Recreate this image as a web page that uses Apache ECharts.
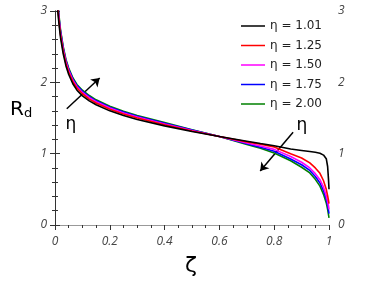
<!DOCTYPE html>
<html><head><meta charset="utf-8">
<script src="https://cdn.jsdelivr.net/npm/echarts@6/dist/echarts.min.js"></script>
<style>html,body{margin:0;padding:0;background:#fff}#c{width:374px;height:283px}</style>
</head><body><div id="c"></div>
<script>
var zeta = [0.003, 0.006, 0.01, 0.015, 0.02, 0.03, 0.04, 0.05, 0.065, 0.08, 0.1, 0.125, 0.15, 0.2, 0.25, 0.3, 0.4, 0.5, 0.6,
            0.7, 0.75, 0.8, 0.86, 0.9, 0.93, 0.95, 0.967, 0.98, 0.99, 0.995, 0.998, 1.0];
var eta101 = [4.2, 3.45, 3.0, 2.8, 2.63, 2.4, 2.23, 2.11, 1.98, 1.89, 1.81, 1.74, 1.685, 1.6, 1.535, 1.48, 1.39, 1.31, 1.24,
              1.175, 1.142, 1.11, 1.065, 1.045, 1.03, 1.02, 1.005, 0.98, 0.93, 0.82, 0.65, 0.5];
var eta125 = [4.29, 3.51, 3.05, 2.84, 2.67, 2.435, 2.26, 2.14, 2.01, 1.92, 1.84, 1.765, 1.71, 1.623, 1.556, 1.5, 1.406, 1.319, 1.24,
              1.165, 1.133, 1.095, 1.0, 0.94, 0.87, 0.8, 0.725, 0.62, 0.5, 0.41, 0.35, 0.3];
var eta150 = [4.35, 3.56, 3.085, 2.87, 2.695, 2.46, 2.285, 2.165, 2.03, 1.938, 1.858, 1.785, 1.727, 1.639, 1.571, 1.513, 1.417, 1.325, 1.24,
              1.15, 1.108, 1.06, 0.96, 0.88, 0.8, 0.72, 0.635, 0.53, 0.41, 0.33, 0.27, 0.22];
var eta175 = [4.4, 3.595, 3.11, 2.895, 2.72, 2.48, 2.302, 2.182, 2.048, 1.954, 1.874, 1.8, 1.741, 1.652, 1.583, 1.524, 1.426, 1.33, 1.24,
              1.14, 1.09, 1.035, 0.925, 0.845, 0.765, 0.68, 0.59, 0.48, 0.36, 0.28, 0.21, 0.16];
var eta200 = [4.45, 3.63, 3.14, 2.92, 2.74, 2.5, 2.32, 2.2, 2.065, 1.97, 1.89, 1.815, 1.755, 1.665, 1.595, 1.535, 1.435, 1.335, 1.24,
              1.13, 1.075, 1.01, 0.9, 0.81, 0.73, 0.64, 0.545, 0.43, 0.31, 0.22, 0.15, 0.1];
var names = ['η = 1.01', 'η = 1.25', 'η = 1.50', 'η = 1.75', 'η = 2.00'];
var colors = ['#000000', '#ff0000', '#ff00ff', '#0000ff', '#008000'];
var allData = [eta101, eta125, eta150, eta175, eta200];

function pairs(ys){ return zeta.map(function(z,i){ return [z, ys[i]]; }); }

var labelStyle = {fontFamily: 'Open Sans', fontStyle: 'italic', fontSize: 12, color: '#444'};
var series = allData.map(function(d, i){
  return {
    name: names[i], type: 'line', data: pairs(d), symbol: 'none',
    smooth: false, clip: true,
    lineStyle: {color: colors[i], width: 1.6}, itemStyle: {color: colors[i]},
    z: 10 - i
  };
});
series[0].markLine = {
  silent: true, symbol: ['none', 'arrow'], symbolSize: 8, label: {show: false},
  lineStyle: {color: '#000', width: 1.5, type: 'solid'},
  data: [
    [{coord: [0.043, 1.63]}, {coord: [0.163, 2.06]}],
    [{coord: [0.869, 1.30]}, {coord: [0.749, 0.757]}]
  ]
};

var chart = echarts.init(document.getElementById('c'));
chart.setOption({
  animation: false,
  grid: {left: 55, right: 45, top: 11, bottom: 58},
  legend: {
    orient: 'vertical', left: 236, top: 15, itemWidth: 24, itemHeight: 12, itemGap: 7.5,
    icon: 'path://M0,0 L24,0 L24,1.5 L0,1.5 Z',
    textStyle: {fontFamily: 'DejaVu Sans', fontSize: 12, color: '#222'},
    data: names
  },
  xAxis: [{
    type: 'value', min: 0, max: 1, interval: 0.2, position: 'bottom',
    axisLine: {lineStyle: {color: '#333', width: 1}},
    axisTick: {show: true, length: 5, lineStyle: {color: '#333'}},
    minorTick: {show: true, splitNumber: 4, length: 3, lineStyle: {color: '#333'}},
    splitLine: {show: false},
    axisLabel: Object.assign({margin: 11}, labelStyle)
  }, {
    type: 'value', min: 0, max: 1, position: 'top',
    axisLine: {show: true, lineStyle: {color: '#999', width: 1}},
    axisTick: {show: false}, axisLabel: {show: false}, splitLine: {show: false}
  }],
  yAxis: [{
    type: 'value', min: 0, max: 3, interval: 1, position: 'left',
    axisLine: {show: true, lineStyle: {color: '#333'}},
    axisTick: {show: true, length: 5, lineStyle: {color: '#333'}},
    minorTick: {show: true, splitNumber: 5, length: 3, lineStyle: {color: '#333'}},
    splitLine: {show: false},
    axisLabel: Object.assign({margin: 8}, labelStyle)
  }, {
    type: 'value', min: 0, max: 3, interval: 1, position: 'right',
    axisLine: {show: true, lineStyle: {color: '#333'}},
    axisTick: {show: true, length: 5, lineStyle: {color: '#333'}},
    minorTick: {show: true, splitNumber: 5, length: 3, lineStyle: {color: '#333'}},
    splitLine: {show: false},
    axisLabel: Object.assign({margin: 9}, labelStyle)
  }],
  graphic: [
    {type: 'text', left: 10, top: 100, style: {text: '{r|R}{s|d}', rich: {
      r: {fontFamily: 'DejaVu Sans', fontSize: 20, fill: '#000'},
      s: {fontFamily: 'DejaVu Sans', fontSize: 13, fill: '#000', verticalAlign: 'bottom', padding: [8, 0, 0, 0]}
    }}},
    {type: 'text', x: 191, y: 266, style: {text: 'ζ', fontFamily: 'DejaVu Sans', fontSize: 22, fill: '#000', align: 'center', verticalAlign: 'middle'}},
    {type: 'text', x: 71, y: 125, style: {text: 'η', fontFamily: 'DejaVu Sans', fontSize: 17, fill: '#000', align: 'center', verticalAlign: 'middle'}},
    {type: 'text', x: 302, y: 126, style: {text: 'η', fontFamily: 'DejaVu Sans', fontSize: 17, fill: '#000', align: 'center', verticalAlign: 'middle'}}
  ],
  series: series
});
</script></body></html>
